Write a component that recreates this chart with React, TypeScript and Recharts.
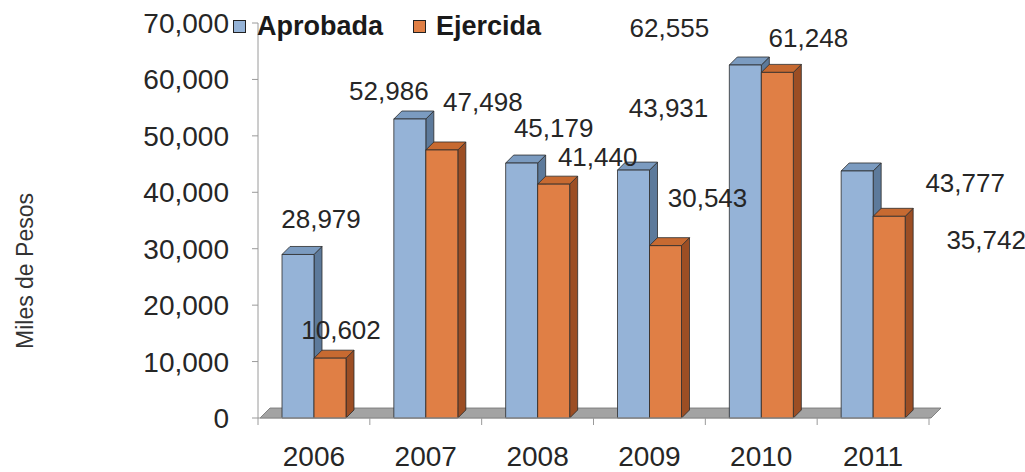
import React from 'react'
import { BarChart, Bar, XAxis, YAxis, Legend, LabelList, ReferenceArea } from 'recharts'

const years = ['2006', '2007', '2008', '2009', '2010', '2011']
const aprobada = [28979, 52986, 45179, 43931, 62555, 43777]
const ejercida = [10602, 47498, 41440, 30543, 61248, 35742]
const yTicks = [0, 10000, 20000, 30000, 40000, 50000, 60000, 70000]

// where each value label sits, relative to the top centre of its bar
const aprobadaShift = [[23, -35], [-21, -28], [32, -35], [35, -62], [-76, -37], [108, 12]]
const ejercidaShift = [[11, -28], [41, -48], [44, -27], [42, -48], [31, -34], [97, 24]]

const data = years.map((year, i) => ({ year, Aprobada: aprobada[i], Ejercida: ejercida[i] }))

const font = '"Liberation Sans", Arial, sans-serif'
const textColor = '#262626'
const axisGray = '#9a9a9a'
const fmt = (v: number) => v.toLocaleString('en-US')

const BLUE = { front: '#95b3d7', top: '#7b9bc0', side: '#5d7a9b' }
const ORANGE = { front: '#e07f45', top: '#c76a31', side: '#9c4e24' }

function makeBar3D(c: { front: string; top: string; side: string }) {
  return (props: any) => {
    const { x, y, width: w, height: h } = props
    const d = 8
    return (
      <g stroke="#2b2b2b" strokeWidth={0.8} strokeLinejoin="round">
        <polygon points={`${x + w},${y + h} ${x + w},${y} ${x + w + d},${y - d} ${x + w + d},${y + h - d}`} fill={c.side} />
        <polygon points={`${x},${y} ${x + d},${y - d} ${x + w + d},${y - d} ${x + w},${y}`} fill={c.top} />
        <rect x={x} y={y} width={w} height={h} fill={c.front} />
      </g>
    )
  }
}

function makeLabel(shift: number[][]) {
  return (props: any) => {
    const { x, y, width, index, value } = props
    const [dx, dy] = shift[index]
    return (
      <text x={x + width / 2 + dx} y={y + dy} textAnchor="middle" dominantBaseline="central"
        fontSize={26} fontFamily={font} fill={textColor}>
        {fmt(value)}
      </text>
    )
  }
}

// year label, plus the small tick marks that sit between categories
const YearTick = (props: any) => {
  const { x, y, payload, index, visibleTicksCount, width } = props
  const n = visibleTicksCount || years.length
  const band = width ? width / n : 111.7
  const axisY = y - 28
  const edges = [x - band / 2]
  if (index === n - 1) edges.push(x + band / 2)
  return (
    <g>
      {edges.map((ex, k) => (
        <line key={k} x1={ex} x2={ex} y1={axisY} y2={axisY + 7} stroke={axisGray} />
      ))}
      <text x={x} y={y} dy="0.71em" textAnchor="middle" fontSize={28} fontFamily={font} fill={textColor}>
        {payload.value}
      </text>
    </g>
  )
}

const Floor = (props: any) => {
  const { x, y, width, height } = props
  const b = y + (height || 0)
  return (
    <polygon
      points={`${x + 2},${b} ${x + width + 2},${b} ${x + width + 12},${b - 10} ${x + 12},${b - 10}`}
      fill="#a3a3a3" stroke="#6e6e6e" strokeWidth={0.8} />
  )
}

const LegendBox = () => (
  <div style={{ display: 'flex', alignItems: 'center', fontFamily: font, fontWeight: 'bold', fontSize: 27, lineHeight: '31px', color: '#1a1a1a', whiteSpace: 'nowrap' }}>
    <span style={{ width: 11, height: 11, background: BLUE.front, border: '1px solid #222', marginRight: 11 }} />
    Aprobada
    <span style={{ width: 11, height: 11, background: ORANGE.front, border: '1px solid #222', marginLeft: 30, marginRight: 10 }} />
    Ejercida
  </div>
)

export default function App() {
  return (
    <div style={{ position: 'absolute', left: 0, top: 0, background: '#fff' }}>
      <BarChart width={1025} height={472} data={data} barSize={32} barGap={0}
        margin={{ top: 23, right: 96, bottom: 0, left: 0 }}>
        <XAxis dataKey="year" height={54} axisLine={{ stroke: axisGray }} tickLine={false}
          tickSize={6} tickMargin={22} interval={0} tick={<YearTick />} />
        <YAxis width={258} domain={[0, 70000]} ticks={yTicks} interval={0} tickSize={6} tickMargin={23}
          tickFormatter={fmt} axisLine={{ stroke: axisGray }} tickLine={{ stroke: axisGray }}
          tick={{ fontSize: 28, fill: textColor, fontFamily: font }}
          label={{
            content: () => (
              <text transform="translate(25,271) rotate(-90)" textAnchor="middle" dominantBaseline="central"
                fontSize={23} fontFamily={font} fill="#333">Miles de Pesos</text>
            ),
          }} />
        <ReferenceArea y1={0} y2={0} shape={Floor} ifOverflow="visible" zIndex={-10} />
        <Legend layout="horizontal" verticalAlign="middle" align="center"
          wrapperStyle={{ top: 11, left: 233, width: 'auto' }} content={LegendBox} />
        <Bar dataKey="Aprobada" shape={makeBar3D(BLUE)} isAnimationActive={false}>
          <LabelList dataKey="Aprobada" content={makeLabel(aprobadaShift)} />
        </Bar>
        <Bar dataKey="Ejercida" shape={makeBar3D(ORANGE)} isAnimationActive={false}>
          <LabelList dataKey="Ejercida" content={makeLabel(ejercidaShift)} />
        </Bar>
      </BarChart>
    </div>
  )
}
